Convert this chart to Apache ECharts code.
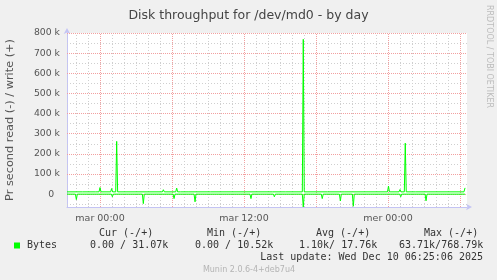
<!DOCTYPE html>
<html>
<head>
<meta charset="utf-8">
<script src="https://cdn.jsdelivr.net/npm/echarts@6/dist/echarts.min.js"></script>
<style>
html,body{margin:0;padding:0;background:#f0f0f0;}
#chart{width:497px;height:280px;}
</style>
</head>
<body>
<div id="chart"></div>
<script>
// x = hours since "mar 00:00", y = bytes per second (thousands)
const xTickHours = [0, 12, 24];
const xTickLabels = ['mar 00:00', 'mar 12:00', 'mer 00:00'];
const yTickValues = [0, 100, 200, 300, 400, 500, 600, 700, 800];

// write (+), in k
const writePoints = [
  [-2.75, 11.5], [-1.47, 11.5], [-1.39, 17], [-1.31, 11.5],
  [-0.36, 11.5], [-0.28, 20], [-0.20, 11.5], [-0.08, 11.5], [0.0, 33], [0.08, 11.5],
  [0.89, 11.5], [0.97, 28], [1.05, 11.5], [1.31, 11.5], [1.39, 262], [1.47, 11.5],
  [4.50, 11.5], [4.58, 16], [4.66, 11.5], [5.20, 11.5], [5.28, 22], [5.36, 11.5],
  [6.31, 11.5], [6.39, 30], [6.47, 11.5], [6.72, 11.5], [6.80, 18], [6.88, 11.5],
  [7.34, 11.5], [7.42, 20], [7.50, 11.5],
  [9.23, 11.5], [9.31, 18], [9.39, 11.5], [9.50, 11.5], [9.58, 17], [9.66, 11.5],
  [14.39, 11.5], [14.47, 17], [14.55, 11.5], [15.48, 11.5], [15.56, 16], [15.64, 11.5],
  [16.86, 11.5], [16.94, 768.79], [17.02, 11.5],
  [18.95, 11.5], [19.03, 17], [19.11, 11.5], [19.92, 11.5], [20.0, 16], [20.08, 11.5],
  [20.34, 11.5], [20.42, 16], [20.50, 11.5], [21.03, 11.5], [21.11, 20], [21.19, 11.5],
  [23.96, 11.5], [24.04, 40], [24.12, 11.5], [24.92, 11.5], [25.0, 23], [25.08, 11.5],
  [25.36, 11.5], [25.44, 253], [25.52, 11.5],
  [26.31, 11.5], [26.39, 20], [26.47, 11.5], [27.92, 11.5], [28.0, 15], [28.08, 11.5],
  [29.0, 11.5], [29.08, 17], [29.16, 11.5], [30.33, 11.5], [30.42, 31.07]
];

// read (-), in k (drawn negative)
const readPoints = [
  [-2.75, 0], [-2.05, 0], [-1.97, -27], [-1.89, 0],
  [0.95, 0], [1.03, -13], [1.11, 0], [3.53, 0], [3.61, -47], [3.69, 0],
  [6.09, 0], [6.17, -22], [6.25, 0], [7.84, 0], [7.92, -38], [8.00, 0],
  [12.50, 0], [12.58, -22], [12.66, 0], [14.45, 0], [14.53, -13], [14.61, 0],
  [16.86, 0], [16.94, -63.71], [17.02, 0], [18.44, 0], [18.52, -22], [18.60, 0],
  [19.95, 0], [20.03, -34], [20.11, 0], [21.03, 0], [21.11, -60], [21.19, 0],
  [24.98, 0], [25.06, -13], [25.14, 0], [27.09, 0], [27.17, -33], [27.25, 0],
  [30.42, 0]
];

const legendHeaders = ['Cur (-/+)', 'Min (-/+)', 'Avg (-/+)', 'Max (-/+)'];
const legendValues = ['0.00 / 31.07k', '0.00 / 10.52k', '1.10k/ 17.76k', '63.71k/768.79k'];
const seriesName = 'Bytes';
const lastUpdate = 'Last update: Wed Dec 10 06:25:06 2025';
const xMin = -2.75, xMax = 30.5833;
const yMin = -63.71, yMax = 800;

const GREEN = '#00ff00';
const GRAYGRID = '#cfcfcf';
const REDGRID = '#f2a0a0';
const AXISCOL = '#c4c4f4';

// grid lines (built from axis ticks)
const gridLines = [];
for (let h = -2; h <= 30; h++) {
  gridLines.push({xAxis: h, lineStyle: {color: h % 6 === 0 ? REDGRID : GRAYGRID, type: h % 6 === 0 ? [1, 1] : [1, 2], width: 1}});
}
for (let v = -50; v <= 800; v += 50) {
  gridLines.push({yAxis: v, lineStyle: {color: v % 100 === 0 ? REDGRID : GRAYGRID, type: v % 100 === 0 ? [1, 1] : [1, 2], width: 1}});
}

const chart = echarts.init(document.getElementById('chart'), null, {renderer: 'canvas'});
const mono = '"DejaVu Sans Mono", monospace';
const sans = '"DejaVu Sans", sans-serif';

const graphics = [];
const headerX = [99, 207, 316, 424];
const valueX = [90, 195, 299, 399];
legendHeaders.forEach((t, i) => graphics.push({type: 'text', x: headerX[i], y: 233, style: {text: t, font: '10px ' + mono, fill: '#333', textAlign: 'left', textVerticalAlign: 'middle'}}));
legendValues.forEach((t, i) => graphics.push({type: 'text', x: valueX[i], y: 245.5, style: {text: t, font: '10px ' + mono, fill: '#333', textAlign: 'left', textVerticalAlign: 'middle'}}));
graphics.push({type: 'rect', shape: {x: 14, y: 242.5, width: 6, height: 6}, style: {fill: GREEN}});
graphics.push({type: 'text', x: 27, y: 245.5, style: {text: seriesName, font: '10px ' + mono, fill: '#333', textAlign: 'left', textVerticalAlign: 'middle'}});
graphics.push({type: 'text', x: 483, y: 257.5, style: {text: lastUpdate, font: '10px ' + mono, fill: '#333', textAlign: 'right', textVerticalAlign: 'middle'}});
graphics.push({type: 'text', x: 249, y: 270, style: {text: 'Munin 2.0.6-4+deb7u4', font: '8px ' + sans, fill: '#b4b4b4', textAlign: 'center', textVerticalAlign: 'middle'}});
graphics.push({type: 'text', x: 489, y: 5, rotation: -Math.PI / 2, style: {text: 'RRDTOOL / TOBI OETIKER', font: '8px ' + sans, fill: '#bcbcbc', textAlign: 'left', textVerticalAlign: 'middle'}});

chart.setOption({
  animation: false,
  backgroundColor: '#f0f0f0',
  textStyle: {fontFamily: sans},
  title: {
    text: 'Disk throughput for /dev/md0 - by day',
    left: 'center', top: 4,
    textStyle: {fontSize: 12.5, fontWeight: 'normal', color: '#444', fontFamily: sans}
  },
  grid: {left: 67, right: 30, top: 33, bottom: 73, show: true, backgroundColor: '#ffffff', borderWidth: 0, containLabel: false, outerBoundsMode: 'none'},
  xAxis: {
    type: 'value', min: xMin, max: xMax, minInterval: 12, maxInterval: 12,
    axisLine: {show: true, onZero: false, lineStyle: {color: AXISCOL, width: 1}, symbol: ['none', 'arrow'], symbolSize: [5, 6], symbolOffset: [0, 5]},
    axisTick: {show: false},
    splitLine: {show: false},
    axisLabel: {
      color: '#555', fontSize: 9.5, fontFamily: sans, margin: 6.5, showMinLabel: true, showMaxLabel: true,
      formatter: v => { const i = xTickHours.indexOf(Math.round(v * 1000) / 1000); return i >= 0 ? xTickLabels[i] : ''; }
    }
  },
  yAxis: {
    type: 'value', min: yMin, max: yMax, minInterval: 100, maxInterval: 100,
    name: 'Pr second read (-) / write (+)', nameLocation: 'middle', nameRotate: 90, nameGap: 51,
    nameTextStyle: {color: '#555', fontSize: 11.3, fontFamily: sans},
    axisLine: {show: true, onZero: false, lineStyle: {color: AXISCOL, width: 1}, symbol: ['none', 'arrow'], symbolSize: [5, 6], symbolOffset: [0, 5]},
    axisTick: {show: false},
    splitLine: {show: false},
    axisLabel: {
      color: '#555', fontSize: 9.3, fontFamily: sans, margin: 7, showMinLabel: true, showMaxLabel: true,
      formatter: v => { const r = Math.round(v * 1000) / 1000; if (yTickValues.indexOf(r) < 0) return ''; return r === 0 ? '0  ' : r + ' k'; }
    }
  },
  series: [
    {
      name: 'grid', type: 'line', data: [], z: 1, silent: true,
      markLine: {silent: true, symbol: 'none', label: {show: false}, animation: false, z: 1, data: gridLines}
    },
    {
      name: 'read', type: 'line', data: readPoints, z: 3, showSymbol: false, symbol: 'none',
      lineStyle: {color: GREEN, width: 1}, itemStyle: {color: GREEN}, silent: true
    },
    {
      name: 'write', type: 'line', data: writePoints, z: 3, showSymbol: false, symbol: 'none',
      lineStyle: {color: GREEN, width: 1}, itemStyle: {color: GREEN}, silent: true
    }
  ],
  graphic: graphics
});
</script>
</body>
</html>
